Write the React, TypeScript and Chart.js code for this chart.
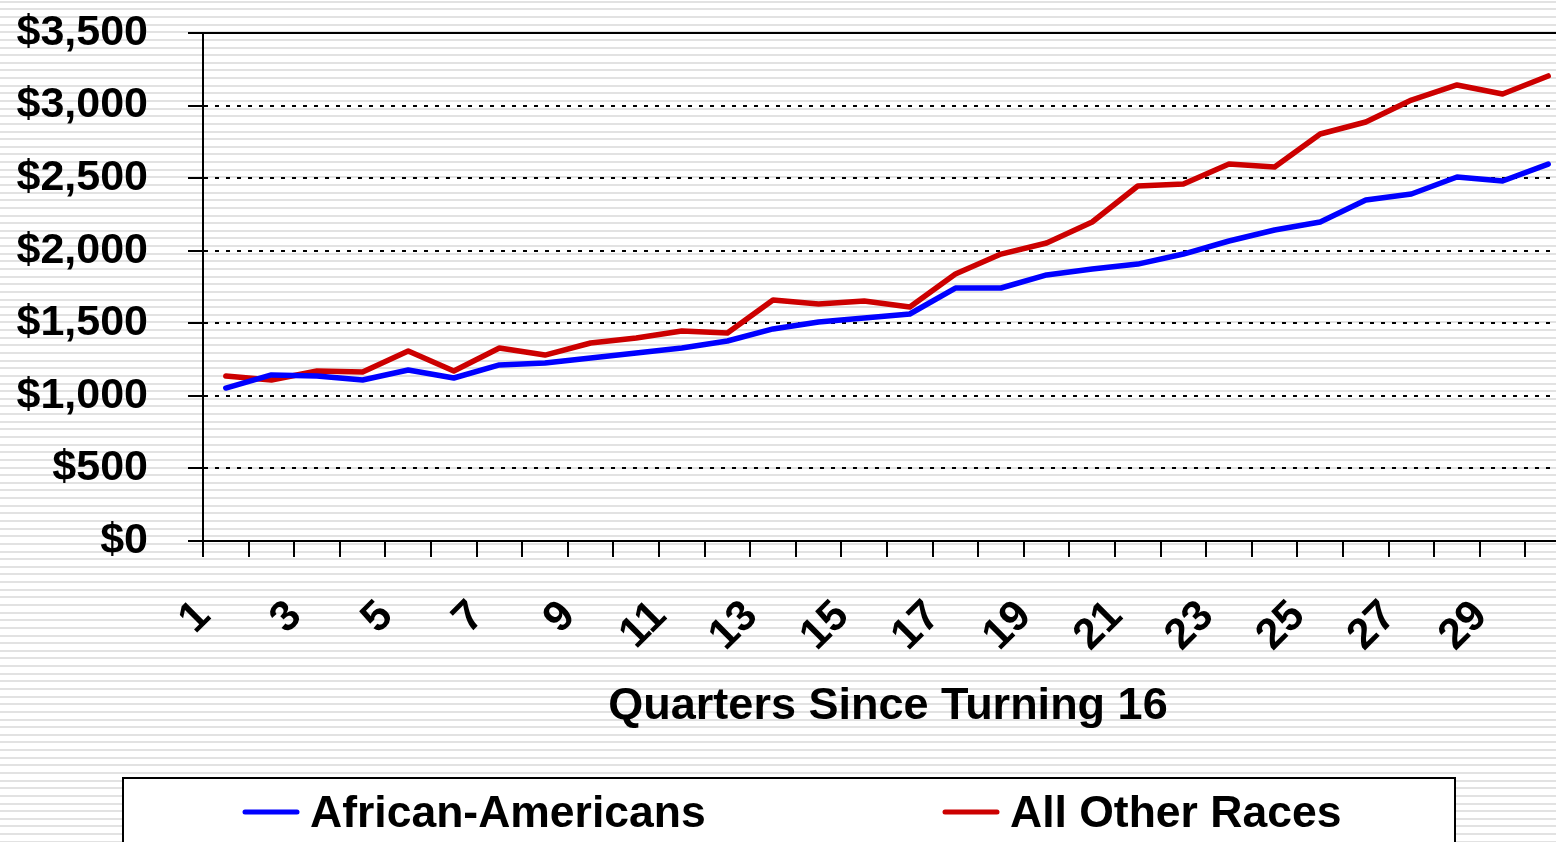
import React, { useEffect, useRef } from "react";
import { Chart, registerables } from "chart.js";

Chart.register(...registerables);

const categories = ["1","2","3","4","5","6","7","8","9","10","11","12","13","14","15","16","17","18","19","20","21","22","23","24","25","26","27","28","29","30"];
const xTickLabels = ["1","","3","","5","","7","","9","","11","","13","","15","","17","","19","","21","","23","","25","","27","","29",""];
const africanAmericans = [1054,1144,1137,1109,1178,1123,1213,1226,1261,1295,1330,1378,1461,1509,1536,1564,1743,1743,1833,1874,1908,1977,2067,2143,2198,2349,2391,2508,2480,2597];
const allOtherRaces = [1137,1109,1171,1164,1309,1171,1330,1281,1364,1399,1447,1433,1660,1633,1654,1612,1840,1977,2053,2198,2446,2460,2597,2577,2804,2887,3038,3142,3080,3204];
const seriesLabels = ["African-Americans", "All Other Races"];
const seriesColors = ["#0000FF", "#CC0000"];
const yMin = 0;
const yMax = 3500;
const yStep = 500;
const xAxisTitle = "Quarters Since Turning 16";

const FONT = '"Liberation Sans", Arial, Helvetica, sans-serif';
const CANVAS_W = 1600;
const CANVAS_H = 842;

const overlayPlugin = {
  id: "overlay",
  afterDraw(chart: any) {
    const ctx = chart.ctx as CanvasRenderingContext2D;
    const area = chart.chartArea;
    ctx.save();
    // solid top border line of plot area
    ctx.strokeStyle = "#000";
    ctx.lineWidth = 2;
    ctx.beginPath();
    ctx.moveTo(area.left, Math.round(area.top));
    ctx.lineTo(CANVAS_W, Math.round(area.top));
    ctx.stroke();

    // axis title
    ctx.fillStyle = "#000";
    ctx.font = `bold 45px ${FONT}`;
    ctx.textAlign = "center";
    ctx.textBaseline = "middle";
    ctx.fillText(xAxisTitle, 888, 707);

    // legend box
    const bx = 123, by = 778, bw = 1332, bh = 120;
    ctx.fillStyle = "#fff";
    ctx.fillRect(bx, by, bw, bh);
    ctx.strokeStyle = "#000";
    ctx.lineWidth = 2;
    ctx.strokeRect(bx, by, bw, bh);

    const items = [
      { lx: 245, tx: 310 },
      { lx: 945, tx: 1010 },
    ];
    chart.data.datasets.forEach((ds: any, i: number) => {
      const it = items[i];
      ctx.strokeStyle = ds.borderColor;
      ctx.lineWidth = 5;
      ctx.lineCap = "round";
      ctx.beginPath();
      ctx.moveTo(it.lx, 812);
      ctx.lineTo(it.lx + 52, 812);
      ctx.stroke();
      ctx.fillStyle = "#000";
      ctx.font = `bold 44.5px ${FONT}`;
      ctx.textAlign = "left";
      ctx.textBaseline = "middle";
      ctx.fillText(ds.label, it.tx, 815);
    });
    ctx.restore();
  },
};

export default function App() {
  const canvasRef = useRef<HTMLCanvasElement | null>(null);

  useEffect(() => {
    if (!canvasRef.current) return;
    const chart = new Chart(canvasRef.current, {
      type: "line",
      data: {
        labels: categories,
        datasets: [
          {
            label: seriesLabels[0],
            data: africanAmericans,
            borderColor: seriesColors[0],
            backgroundColor: seriesColors[0],
            borderWidth: 5.5,
            pointRadius: 0,
            tension: 0,
            borderJoinStyle: "round",
            borderCapStyle: "round",
          },
          {
            label: seriesLabels[1],
            data: allOtherRaces,
            borderColor: seriesColors[1],
            backgroundColor: seriesColors[1],
            borderWidth: 5.5,
            pointRadius: 0,
            tension: 0,
            borderJoinStyle: "round",
            borderCapStyle: "round",
          },
        ],
      },
      options: {
        animation: false,
        responsive: false,
        maintainAspectRatio: false,
        layout: { padding: { left: 0, top: 33, right: CANVAS_W - 1571, bottom: 0 } },
        plugins: {
          legend: { display: false },
          tooltip: { enabled: false },
          title: { display: false },
        },
        scales: {
          x: {
            type: "category",
            offset: true,
            afterFit(scale: any) {
              scale.height = CANVAS_H - 541;
              scale.paddingLeft = 0;
              scale.paddingRight = 0;
              scale.paddingTop = 0;
              scale.paddingBottom = 0;
            },
            grid: {
              display: true,
              drawOnChartArea: false,
              drawTicks: true,
              offset: true,
              tickLength: 16,
              tickColor: "#000",
              tickWidth: 2,
              color: "#000",
              lineWidth: 2,
            },
            border: { display: true, color: "#000", width: 2 },
            ticks: {
              autoSkip: false,
              minRotation: 45,
              maxRotation: 45,
              padding: 34,
              labelOffset: -22,
              color: "#000",
              font: { family: FONT, size: 43, weight: "bold" },
              callback: (_v: any, idx: number) => xTickLabels[idx],
            },
          },
          y: {
            min: yMin,
            max: yMax,
            afterFit(scale: any) {
              scale.width = 203;
              scale.paddingTop = 0;
              scale.paddingBottom = 0;
              scale.paddingLeft = 0;
              scale.paddingRight = 0;
            },
            grid: {
              display: true,
              color: "#000",
              lineWidth: 2,
              drawTicks: true,
              tickLength: 15,
              tickColor: "#000",
              tickWidth: 2,
              tickBorderDash: [],
            },
            border: { display: true, color: "#000", width: 2, dash: [4, 7] },
            ticks: {
              stepSize: yStep,
              padding: 40,
              color: "#000",
              font: { family: FONT, size: 43, weight: "bold" },
              callback: (v: any) => "$" + Number(v).toLocaleString("en-US"),
            },
          },
        },
      },
      plugins: [overlayPlugin],
    } as any);
    return () => chart.destroy();
  }, []);

  return (
    <div
      style={{
        position: "fixed",
        left: 0,
        top: 0,
        width: 1556,
        height: 842,
        overflow: "hidden",
        backgroundColor: "#fff",
        backgroundImage:
          "repeating-linear-gradient(to bottom, #ffffff 0px, #ffffff 0.7px, #e2e2e2 0.7px, #e2e2e2 2.7px, #ffffff 2.7px, #ffffff 7.637px)",
        backgroundPosition: "0 0",
      }}
    >
      <canvas ref={canvasRef} width={CANVAS_W} height={CANVAS_H} style={{ display: "block", width: CANVAS_W, height: CANVAS_H }} />
    </div>
  );
}
